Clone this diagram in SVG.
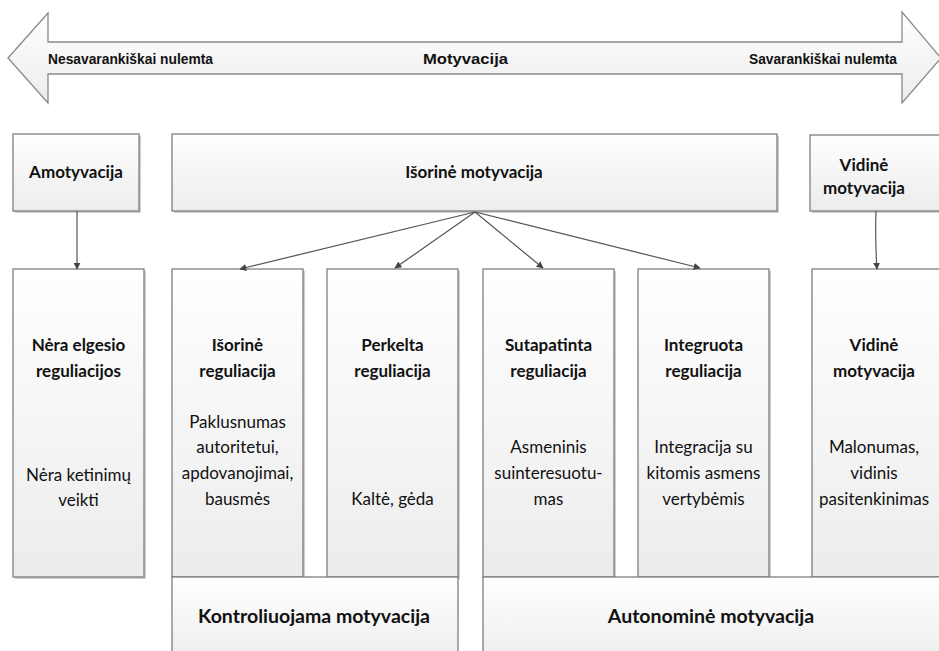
<svg xmlns="http://www.w3.org/2000/svg" width="939" height="651" viewBox="0 0 939 651">
<defs>
<linearGradient id="g" x1="0" y1="0" x2="0" y2="1">
<stop offset="0" stop-color="#ffffff"/>
<stop offset="1" stop-color="#ececec"/>
</linearGradient>
<marker id="ah" viewBox="0 0 10 10" refX="9" refY="5" markerWidth="7" markerHeight="7" orient="auto-start-reverse" markerUnits="userSpaceOnUse">
<path d="M0,0 L10,5 L0,10 z" fill="#444"/>
</marker>
</defs>
<style>
.box{fill:url(#g);stroke:#7f7f7f;stroke-width:1.3}
.sh{fill:#cfcfcf}
.t{font-family:Lato,"Open Sans",sans-serif;font-size:17px;font-weight:bold;fill:#111;text-anchor:middle}
.tl{font-family:Lato,"Open Sans",sans-serif;font-size:19.5px;font-weight:bold;fill:#111;text-anchor:middle}
.b{font-family:Lato,"Open Sans",sans-serif;font-size:17px;fill:#111;text-anchor:middle}
.a{font-family:"Liberation Sans",Arial,sans-serif;font-size:15px;font-weight:bold;fill:#111}
.c{stroke:#555;stroke-width:1.2;fill:none;marker-end:url(#ah)}
</style>

<g id="scale">
<path d="M8,58 L48,13 L48,42 L902,42 L902,12 L941,58 L902,103 L902,74 L48,74 L48,103 Z" fill="url(#g)" stroke="#8a8a8a" stroke-width="1.3"/>
<text class="a" x="48" y="64" textLength="165" lengthAdjust="spacingAndGlyphs">Nesavarankiškai nulemta</text>
<text class="a" x="423" y="64" textLength="85" lengthAdjust="spacingAndGlyphs">Motyvacija</text>
<text class="a" x="749" y="64" textLength="148" lengthAdjust="spacingAndGlyphs">Savarankiškai nulemta</text>
</g>

<g id="amotyvacija">
<rect class="sh" x="15" y="136" width="126" height="77"/>
<rect class="box" x="13" y="134" width="126" height="77"/>
<text class="t" x="76" y="178">Amotyvacija</text>
</g>
<g id="isorine-motyvacija">
<rect class="sh" x="174" y="136" width="605" height="77"/>
<rect class="box" x="172" y="134" width="605" height="77"/>
<text class="t" x="474" y="178">Išorinė motyvacija</text>
</g>
<g id="vidine-motyvacija-top">
<rect class="sh" x="812" y="137" width="140" height="76"/>
<rect class="box" x="810" y="135" width="140" height="76"/>
<text class="t" x="864" y="171">Vidinė</text>
<text class="t" x="864" y="194">motyvacija</text>
</g>

<g id="nera-elgesio">
<rect class="sh" x="15" y="271" width="131" height="308"/>
<rect class="box" x="13" y="269" width="131" height="308"/>
<text class="t" x="78.5" y="351">Nėra elgesio</text>
<text class="t" x="78.5" y="377">reguliacijos</text>
<text class="b" x="78.5" y="481">Nėra ketinimų</text>
<text class="b" x="78.5" y="506">veikti</text>
</g>
<g id="isorine-reguliacija">
<rect class="sh" x="174" y="271" width="131" height="308"/>
<rect class="box" x="172" y="269" width="131" height="308"/>
<text class="t" x="237.5" y="351">Išorinė</text>
<text class="t" x="237.5" y="377">reguliacija</text>
<text class="b" x="237.5" y="428">Paklusnumas</text>
<text class="b" x="237.5" y="453">autoritetui,</text>
<text class="b" x="237.5" y="479">apdovanojimai,</text>
<text class="b" x="237.5" y="505">bausmės</text>
</g>
<g id="perkelta-reguliacija">
<rect class="sh" x="329" y="271" width="131" height="308"/>
<rect class="box" x="327" y="269" width="131" height="308"/>
<text class="t" x="392.5" y="351">Perkelta</text>
<text class="t" x="392.5" y="377">reguliacija</text>
<text class="b" x="392.5" y="505">Kaltė, gėda</text>
</g>
<g id="sutapatinta-reguliacija">
<rect class="sh" x="485" y="271" width="131" height="308"/>
<rect class="box" x="483" y="269" width="131" height="308"/>
<text class="t" x="548.5" y="351">Sutapatinta</text>
<text class="t" x="548.5" y="377">reguliacija</text>
<text class="b" x="548.5" y="453">Asmeninis</text>
<text class="b" x="548.5" y="479">suinteresuotu-</text>
<text class="b" x="548.5" y="505">mas</text>
</g>
<g id="integruota-reguliacija">
<rect class="sh" x="640" y="271" width="131" height="308"/>
<rect class="box" x="638" y="269" width="131" height="308"/>
<text class="t" x="703.5" y="351">Integruota</text>
<text class="t" x="703.5" y="377">reguliacija</text>
<text class="b" x="703.5" y="453">Integracija su</text>
<text class="b" x="703.5" y="479">kitomis asmens</text>
<text class="b" x="703.5" y="505">vertybėmis</text>
</g>
<g id="vidine-motyvacija">
<rect class="sh" x="814" y="271" width="140" height="308"/>
<rect class="box" x="812" y="269" width="140" height="308"/>
<text class="t" x="874" y="351">Vidinė</text>
<text class="t" x="874" y="377">motyvacija</text>
<text class="b" x="874" y="453">Malonumas,</text>
<text class="b" x="874" y="479">vidinis</text>
<text class="b" x="874" y="505">pasitenkinimas</text>
</g>

<g id="kontroliuojama-motyvacija">
<rect class="box" x="172" y="577" width="286" height="90"/>
<text class="tl" x="314" y="623">Kontroliuojama motyvacija</text>
</g>
<g id="autonomine-motyvacija">
<rect class="box" x="483" y="577" width="470" height="90"/>
<text class="tl" x="711" y="623">Autonominė motyvacija</text>
</g>

<g id="connectors">
<path class="c" d="M77,211 L77,269"/>
<path class="c" d="M876,211 Q875,240 877,269"/>
<path class="c" d="M475,212 L240,269"/>
<path class="c" d="M475,212 L395,268"/>
<path class="c" d="M475,212 L543,268"/>
<path class="c" d="M475,212 L700,268"/>
</g>
</svg>
